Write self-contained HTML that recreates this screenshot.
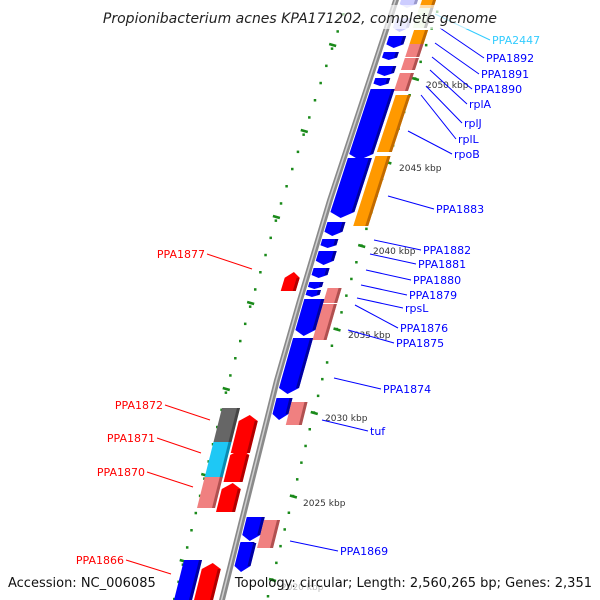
<!DOCTYPE html>
<html><head><meta charset="utf-8"><style>
html,body{margin:0;padding:0;background:#fff;width:600px;height:600px;overflow:hidden}
svg{display:block}
</style></head><body>
<svg id="s" width="600" height="600" viewBox="0 0 600 600" xmlns="http://www.w3.org/2000/svg" font-family="'Liberation Sans','DejaVu Sans',sans-serif">
<g id="g"></g>
<rect x="100" y="5" width="400" height="24" fill="#fff" fill-opacity="0.65"/>
<text x="300" y="23" text-anchor="middle" font-size="14" font-style="italic" fill="#222" font-family="'DejaVu Sans',sans-serif">Propionibacterium acnes KPA171202, complete genome</text>
<text x="8" y="587" font-size="13" fill="#111" font-family="'DejaVu Sans',sans-serif">Accession: NC_006085</text>
<text x="592" y="587" text-anchor="end" font-size="13" fill="#111" font-family="'DejaVu Sans',sans-serif">Topology: circular; Length: 2,560,265 bp; Genes: 2,351</text>
</svg>
<script>
var P=[[0,396],[200,330],[300,300],[380,277],[600,222]];
function b(y){for(var i=0;i<P.length-1;i++){if(y<=P[i+1][0]){var t=(y-P[i][0])/(P[i+1][0]-P[i][0]);return P[i][1]+t*(P[i+1][1]-P[i][1]);}}var n=P.length;return P[n-1][1]+(y-P[n-1][0])*(P[n-1][1]-P[n-2][1])/(P[n-1][0]-P[n-2][0]);}
var h='';
var pts=[];for(var y=-10;y<=610;y+=10)pts.push((b(y)-3)+','+y);
var pts2=[];for(var y=610;y>=-10;y-=10)pts2.push((b(y)+3)+','+y);
h+='<polygon points="'+pts.join(' ')+' '+pts2.join(' ')+'" fill="#8a8a8a"/>';
var p3=[];for(var y=-10;y<=610;y+=10)p3.push((b(y)-0.5)+','+y);
h+='<polyline points="'+p3.join(' ')+'" fill="none" stroke="#cfcfcf" stroke-width="1.5"/>';
for(var y=-5;y<=605;y+=16.7){var x=b(y)+45;h+='<rect x="'+(x-1.2)+'" y="'+(y-1.2)+'" width="2.5" height="2.5" fill="#1a8a1a"/>';}
for(var k=-1;k<8;k++){var y=79+83.5*k;var x=b(y)+45;h+='<line x1="'+(x-3)+'" y1="'+(y-1)+'" x2="'+(x+4)+'" y2="'+(y+1)+'" stroke="#1a8a1a" stroke-width="2.5"/>';}
for(var y=-3;y<=605;y+=17.2){var x=b(y)-48;h+='<rect x="'+(x-1.2)+'" y="'+(y-1.2)+'" width="2.5" height="2.5" fill="#1a8a1a"/>';}
for(var k=-3;k<4;k++){var y=303+86*k;var x=b(y)-49;h+='<line x1="'+(x-3)+'" y1="'+(y-1)+'" x2="'+(x+4)+'" y2="'+(y+1)+'" stroke="#1a8a1a" stroke-width="2.5"/>';}
function shade(c){return {'#0000ff':'#0000a0','#ff9900':'#c06a00','#f08080':'#b05050','#ff0000':'#b00000','#666666':'#444','#1ec8f5':'#0a8ab0','#ccccff':'#9999cc'}[c]||'#555';}
function gene(y1,y2,o1,o2,c,d){var a=Math.min(6,(y2-y1)*0.3);
 var ty1=y1,ty2=y2;if(d==1)ty2=y2-a;if(d==-1)ty1=y1+a;
 var xm=function(y){return b(y)+(o1+o2)/2;};
 var s='';
 if(d==1)s=(b(ty1)+o1)+','+ty1+' '+(b(ty1)+o2)+','+ty1+' '+(b(ty2)+o2)+','+ty2+' '+xm(y2)+','+y2+' '+(b(ty2)+o1)+','+ty2;
 else if(d==-1)s=xm(y1)+','+y1+' '+(b(ty1)+o2)+','+ty1+' '+(b(y2)+o2)+','+y2+' '+(b(y2)+o1)+','+y2+' '+(b(ty1)+o1)+','+ty1;
 else s=(b(y1)+o1)+','+y1+' '+(b(y1)+o2)+','+y1+' '+(b(y2)+o2)+','+y2+' '+(b(y2)+o1)+','+y2;
 h+='<polygon points="'+s+'" fill="'+c+'"/>';
 var ox=o2-3;h+='<polygon points="'+(b(ty1)+ox)+','+ty1+' '+(b(ty1)+o2)+','+ty1+' '+(b(ty2)+o2)+','+ty2+' '+(b(ty2)+ox)+','+ty2+'" fill="'+shade(c)+'"/>';
}
var B='#0000ff',O='#ff9900',K='#f08080',R='#ff0000';
gene(-5,8,5,22,'#ccccff',1);gene(-5,12,26,40,O,0);gene(8,28,26,40,'#e0f0d0',0);
gene(18,32,6,22,'#ccccff',1);gene(30,44,28,42,O,0);
gene(36,48,5,22,B,1);gene(44,57,28,42,K,0);gene(52,60,5,20,B,1);
gene(58,70,28,42,K,0);gene(66,76,5,22,B,1);gene(73,91,28,42,K,0);gene(78,86,5,20,B,1);
gene(89,160,4,28,B,1);gene(95,152,31,46,O,0);gene(158,218,4,28,B,1);gene(156,226,31,46,O,0);
gene(222,236,4,22,B,1);gene(239,248,4,20,B,1);gene(251,265,4,22,B,1);gene(268,278,4,20,B,1);
gene(282,289,4,18,B,1);gene(290,297,4,18,B,1);gene(288,303,24,38,K,0);gene(304,340,24,38,K,0);
gene(299,336,4,24,B,1);gene(338,394,4,24,B,1);gene(398,420,4,20,B,1);gene(402,425,20,36,K,0);
gene(517,541,4,22,B,1);gene(542,550,4,18,B,1);gene(520,548,22,38,K,0);gene(543,572,4,20,B,1);
gene(272,291,-22,-7,R,-1);
gene(408,443,-48,-30,'#666666',0);gene(442,478,-48,-30,'#1ec8f5',0);gene(477,508,-48,-30,K,0);
gene(415,453,-28,-9,R,-1);gene(449,482,-28,-9,R,-1);gene(483,512,-28,-9,R,-1);
gene(560,605,-48,-30,B,0);gene(563,605,-28,-9,R,-1);
[[426,88,'2050 kbp'],[399,171,'2045 kbp'],[373,254,'2040 kbp'],[348,338,'2035 kbp'],[325,421,'2030 kbp'],[303,506,'2025 kbp']].forEach(function(t){h+='<text x="'+t[0]+'" y="'+t[1]+'" font-size="9" fill="#333" font-family="\'DejaVu Sans\',sans-serif">'+t[2]+'</text>';});
h+='<text x="281" y="590" font-size="9" fill="#bbb" font-family="\'DejaVu Sans\',sans-serif">2020 kbp</text>';
var lab=[[492,44,'PPA2447','#33ccff',435,14],[486,62,'PPA1892',B,440,28],[481,78,'PPA1891',B,435,43],[474,93,'PPA1890',B,432,57],[469,108,'rplA',B,430,70],[464,127,'rplJ',B,426,86],[458,143,'rplL',B,421,95],[454,158,'rpoB',B,408,131],[436,213,'PPA1883',B,388,196],[423,254,'PPA1882',B,374,240],[418,268,'PPA1881',B,370,254],[413,284,'PPA1880',B,366,270],[409,299,'PPA1879',B,361,285],[405,312,'rpsL',B,357,298],[400,332,'PPA1876',B,355,305],[396,347,'PPA1875',B,348,330],[383,393,'PPA1874',B,334,378],[370,435,'tuf',B,322,420],[340,555,'PPA1869',B,290,541]];
lab.forEach(function(l){h+='<line x1="'+(l[0]-2)+'" y1="'+(l[1]-4)+'" x2="'+l[4]+'" y2="'+l[5]+'" stroke="'+l[3]+'" stroke-width="1"/>';h+='<text x="'+l[0]+'" y="'+l[1]+'" font-size="11" fill="'+l[3]+'" font-family="\'DejaVu Sans\',sans-serif">'+l[2]+'</text>';});
var labL=[[205,258,'PPA1877',252,269],[163,409,'PPA1872',210,420],[155,442,'PPA1871',201,453],[145,476,'PPA1870',193,487],[124,564,'PPA1866',171,574]];
labL.forEach(function(l){h+='<line x1="'+(l[0]+2)+'" y1="'+(l[1]-4)+'" x2="'+l[3]+'" y2="'+l[4]+'" stroke="#ff0000" stroke-width="1"/>';h+='<text x="'+l[0]+'" y="'+l[1]+'" text-anchor="end" font-size="11" fill="#ff0000" font-family="\'DejaVu Sans\',sans-serif">'+l[2]+'</text>';});
document.getElementById('g').innerHTML=h;
</script>
</body></html>
